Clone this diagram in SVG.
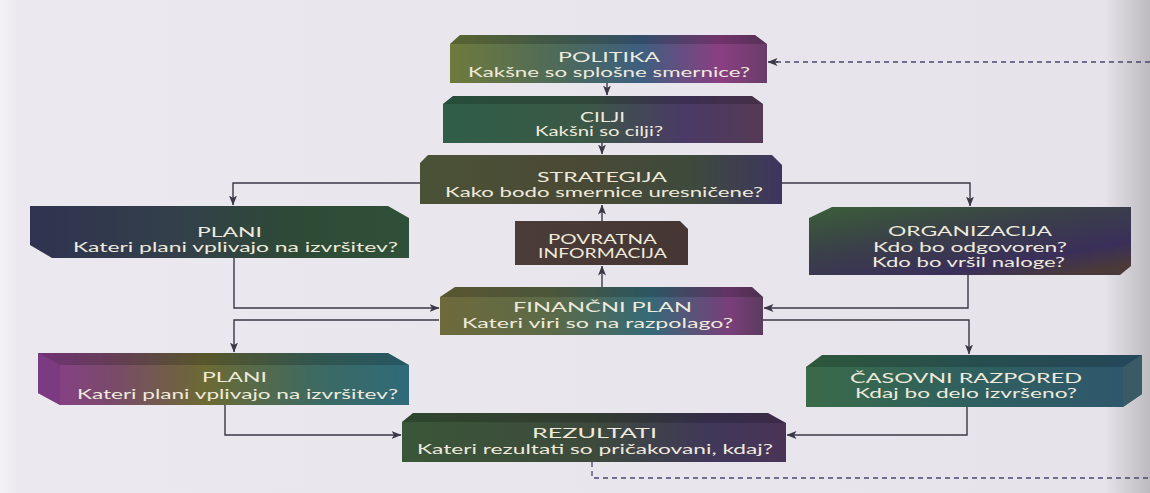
<svg xmlns="http://www.w3.org/2000/svg" width="1150" height="493" viewBox="0 0 1150 493">
<style>
.t{font-family:Lato,"Open Sans","Liberation Sans",sans-serif;font-size:13.5px;fill:#efeadc;lengthAdjust:spacingAndGlyphs}
.c{fill:none;stroke:#3a3846;stroke-width:1.4}
.d{fill:none;stroke:#4a4870;stroke-width:1.3;stroke-dasharray:5,4}
.top{fill:#000;opacity:0.18}
</style>
<defs>
<marker id="ah" viewBox="0 0 10 8" refX="9.5" refY="4" markerWidth="10" markerHeight="8" markerUnits="userSpaceOnUse" orient="auto">
<path d="M0,0 L10,4 L0,8 L2.5,4 z" fill="#3a3846"/>
</marker>
<linearGradient id="bg" x1="0" y1="0" x2="1" y2="0">
<stop offset="0" stop-color="#f4f2f6"/><stop offset="0.015" stop-color="#ebe8ef"/><stop offset="0.96" stop-color="#e6e3ea"/><stop offset="1" stop-color="#bdbac0"/>
</linearGradient>
<linearGradient id="gPol" x1="0" y1="0" x2="1" y2="0">
<stop offset="0" stop-color="#6f7a3c"/><stop offset="0.35" stop-color="#4d6a5a"/><stop offset="0.6" stop-color="#3d5f80"/><stop offset="0.85" stop-color="#8a3f82"/><stop offset="1" stop-color="#6a3d6a"/>
</linearGradient>
<linearGradient id="gCil" x1="0" y1="0" x2="1" y2="0">
<stop offset="0" stop-color="#2f5e48"/><stop offset="0.45" stop-color="#3b5846"/><stop offset="0.75" stop-color="#4a3a66"/><stop offset="1" stop-color="#553a55"/>
</linearGradient>
<linearGradient id="gStr" x1="0" y1="0" x2="1" y2="0">
<stop offset="0" stop-color="#4a5236"/><stop offset="0.4" stop-color="#4b4a35"/><stop offset="0.75" stop-color="#3e4a3c"/><stop offset="1" stop-color="#3e3560"/>
</linearGradient>
<linearGradient id="gPl1" x1="0" y1="0" x2="1" y2="0">
<stop offset="0" stop-color="#2f3350"/><stop offset="0.4" stop-color="#33404a"/><stop offset="0.7" stop-color="#2e4a36"/><stop offset="1" stop-color="#2f5038"/>
</linearGradient>
<linearGradient id="gPov" x1="0" y1="0" x2="1" y2="0">
<stop offset="0" stop-color="#4a3c38"/><stop offset="1" stop-color="#453634"/>
</linearGradient>
<linearGradient id="gOrg" x1="0" y1="0" x2="0.8" y2="1">
<stop offset="0" stop-color="#3b5e38"/><stop offset="0.45" stop-color="#3a3f4a"/><stop offset="0.8" stop-color="#3a2f5a"/><stop offset="1" stop-color="#4a3a3a"/>
</linearGradient>
<linearGradient id="gFin" x1="0" y1="0" x2="1" y2="0">
<stop offset="0" stop-color="#6e6a3c"/><stop offset="0.35" stop-color="#5c6a48"/><stop offset="0.65" stop-color="#356a78"/><stop offset="0.9" stop-color="#7a3e7a"/><stop offset="1" stop-color="#5a3c5e"/>
</linearGradient>
<linearGradient id="gPl2" x1="0" y1="0" x2="1" y2="0">
<stop offset="0" stop-color="#8a3e8e"/><stop offset="0.2" stop-color="#7a4a6a"/><stop offset="0.45" stop-color="#6c6a34"/><stop offset="0.75" stop-color="#3d6a62"/><stop offset="1" stop-color="#2f6a7a"/>
</linearGradient>
<linearGradient id="gCas" x1="0" y1="0" x2="1" y2="0">
<stop offset="0" stop-color="#3a6a48"/><stop offset="0.5" stop-color="#2f6060"/><stop offset="1" stop-color="#2f566e"/>
</linearGradient>
<linearGradient id="gRez" x1="0" y1="0" x2="1" y2="0">
<stop offset="0" stop-color="#3a5638"/><stop offset="0.5" stop-color="#3e4a3c"/><stop offset="0.8" stop-color="#40385a"/><stop offset="1" stop-color="#4a3456"/>
</linearGradient>
</defs>

<rect x="0" y="0" width="1150" height="493" fill="url(#bg)"/>

<g id="connectors">
<path class="c" d="M607,83 V95" marker-end="url(#ah)"/>
<path class="c" d="M602,143 V154" marker-end="url(#ah)"/>
<path class="c" d="M420,183 H233 V205" marker-end="url(#ah)"/>
<path class="c" d="M782,183 H970 V206" marker-end="url(#ah)"/>
<path class="c" d="M602,221 V205" marker-end="url(#ah)"/>
<path class="c" d="M602,287 V266" marker-end="url(#ah)"/>
<path class="c" d="M234,258 V308 H439" marker-end="url(#ah)"/>
<path class="c" d="M968,275 V308 H764" marker-end="url(#ah)"/>
<path class="c" d="M439,320 H234 V352" marker-end="url(#ah)"/>
<path class="c" d="M763,320 H969 V354" marker-end="url(#ah)"/>
<path class="c" d="M225,405 V435 H401" marker-end="url(#ah)"/>
<path class="c" d="M967,407 V435 H787" marker-end="url(#ah)"/>
<path class="d" d="M592,462 V478 H1150"/>
<path class="d" d="M1150,62 H770"/>
<path class="c" d="M778,62 H768" marker-end="url(#ah)"/>
</g>

<g id="politika">
<polygon points="450,44 460,35 755,35 767,44 767,83 450,83" fill="url(#gPol)"/>
<polygon class="top" points="450,44 460,35 755,35 767,44"/>
<text class="t" x="558" y="62" textLength="102" lengthAdjust="spacingAndGlyphs">POLITIKA</text>
<text class="t" x="468" y="77" textLength="282" lengthAdjust="spacingAndGlyphs">Kakšne so splošne smernice?</text>
</g>

<g id="cilji">
<polygon points="443,104 453,96 752,96 763,104 763,143 443,143" fill="url(#gCil)"/>
<polygon class="top" points="443,104 453,96 752,96 763,104"/>
<text class="t" x="580" y="122" textLength="45" lengthAdjust="spacingAndGlyphs">CILJI</text>
<text class="t" x="535" y="136" textLength="128" lengthAdjust="spacingAndGlyphs">Kakšni so cilji?</text>
</g>

<g id="strategija">
<polygon points="420,163 428,155 772,155 782,165 782,204 420,204" fill="url(#gStr)"/>
<text class="t" x="537" y="182" textLength="130" lengthAdjust="spacingAndGlyphs">STRATEGIJA</text>
<text class="t" x="445" y="197" textLength="318" lengthAdjust="spacingAndGlyphs">Kako bodo smernice uresničene?</text>
</g>

<g id="plani1">
<polygon points="30,206 388,206 409,218 409,258 52,258 30,245" fill="url(#gPl1)"/>
<text class="t" x="197" y="237" textLength="65" lengthAdjust="spacingAndGlyphs">PLANI</text>
<text class="t" x="73" y="252" textLength="325" lengthAdjust="spacingAndGlyphs">Kateri plani vplivajo na izvršitev?</text>
</g>

<g id="povratna">
<polygon points="515,221 680,221 688,229 688,265 515,265" fill="url(#gPov)"/>
<text class="t" x="548" y="244" textLength="109" lengthAdjust="spacingAndGlyphs">POVRATNA</text>
<text class="t" x="538" y="258" textLength="129" lengthAdjust="spacingAndGlyphs">INFORMACIJA</text>
</g>

<g id="organizacija">
<polygon points="809,218 832,207 1131,207 1131,266 1120,275 809,275" fill="url(#gOrg)"/>
<text class="t" x="888" y="236" textLength="164" lengthAdjust="spacingAndGlyphs">ORGANIZACIJA</text>
<text class="t" x="873" y="252" textLength="194" lengthAdjust="spacingAndGlyphs">Kdo bo odgovoren?</text>
<text class="t" x="872" y="267" textLength="193" lengthAdjust="spacingAndGlyphs">Kdo bo vršil naloge?</text>
</g>

<g id="financni">
<polygon points="440,297 455,287 752,287 763,297 763,335 440,335" fill="url(#gFin)"/>
<polygon class="top" points="440,297 455,287 752,287 763,297"/>
<text class="t" x="513" y="312" textLength="179" lengthAdjust="spacingAndGlyphs">FINANČNI PLAN</text>
<text class="t" x="462" y="328" textLength="271" lengthAdjust="spacingAndGlyphs">Kateri viri so na razpolago?</text>
</g>

<g id="plani2">
<polygon points="38,353 388,353 409,365 409,405 60,405 38,393" fill="url(#gPl2)"/>
<polygon points="38,353 60,365 60,405 38,393" fill="#7a3a80" opacity="0.85"/>
<polygon class="top" points="38,353 388,353 409,365 60,365"/>
<text class="t" x="202" y="382" textLength="65" lengthAdjust="spacingAndGlyphs">PLANI</text>
<text class="t" x="77" y="399" textLength="321" lengthAdjust="spacingAndGlyphs">Kateri plani vplivajo na izvršitev?</text>
</g>

<g id="casovni">
<polygon points="806,367 822,355 1142,355 1142,394 1123,407 806,407" fill="url(#gCas)"/>
<polygon class="top" points="806,367 822,355 1142,355 1123,367"/>
<polygon points="1123,367 1142,355 1142,394 1123,407" fill="#3a5a66"/>
<text class="t" x="850" y="383" textLength="232" lengthAdjust="spacingAndGlyphs">ČASOVNI RAZPORED</text>
<text class="t" x="855" y="398" textLength="222" lengthAdjust="spacingAndGlyphs">Kdaj bo delo izvršeno?</text>
</g>

<g id="rezultati">
<polygon points="402,422 413,413 768,413 786,423 786,462 402,462" fill="url(#gRez)"/>
<polygon class="top" points="402,422 413,413 768,413 786,423"/>
<text class="t" x="532" y="438" textLength="125" lengthAdjust="spacingAndGlyphs">REZULTATI</text>
<text class="t" x="417" y="454" textLength="356" lengthAdjust="spacingAndGlyphs">Kateri rezultati so pričakovani, kdaj?</text>
</g>
</svg>
